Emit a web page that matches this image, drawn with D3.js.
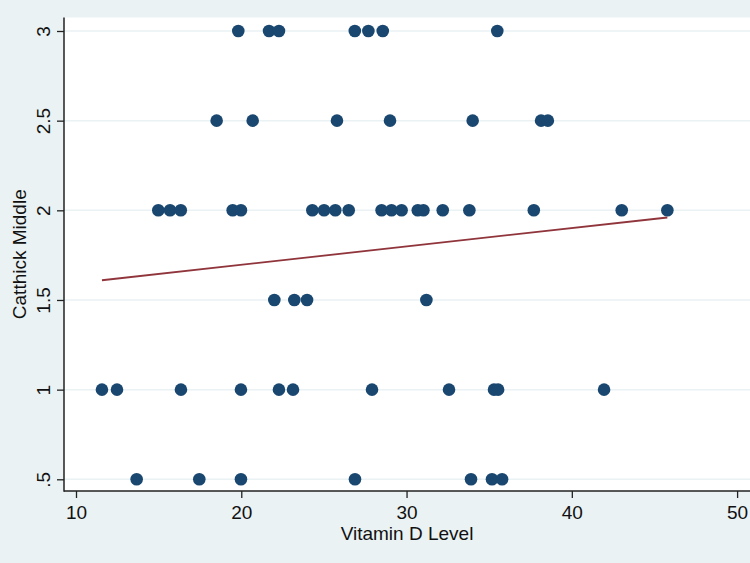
<!DOCTYPE html>
<html>
<head>
  <meta charset="utf-8">
  <title>Catthick Middle vs Vitamin D Level</title>
  <script src="https://cdn.jsdelivr.net/npm/d3@7"></script>
  <style>
    body { margin: 0; background: #eaf2f3; }
    svg { display: block; font-family: "Liberation Sans", Arial, sans-serif; }
  </style>
</head>
<body>
  <div id="chart"></div>
  <script>
    // observed points, one list per y level
    var vitD_3   = [19.82, 21.68, 22.28, 26.87, 27.69, 28.56, 35.49];
    var vitD_2_5 = [18.51, 20.69, 25.79, 29.0, 34.0, 38.14, 38.55];
    var vitD_2   = [14.98, 15.69, 16.34, 19.48, 19.98, 24.3, 25.01, 25.69, 26.5, 28.49, 29.09, 29.7,
                    30.68, 31.02, 32.19, 33.8, 37.7, 43.02, 45.78];
    var vitD_1_5 = [22.0, 23.21, 23.98, 31.2];
    var vitD_1   = [11.57, 12.48, 16.35, 19.98, 22.28, 23.13, 27.91, 32.57, 35.29, 35.54, 41.95];
    var vitD_0_5 = [13.67, 17.46, 19.98, 26.88, 33.9, 35.17, 35.78];

    var levels = [3, 2.5, 2, 1.5, 1, 0.5];
    var groups = [vitD_3, vitD_2_5, vitD_2, vitD_1_5, vitD_1, vitD_0_5];

    // fitted line (lfit) end points
    var fitX = [11.57, 45.78];
    var fitY = [1.61, 1.96];

    var xTicks = [10, 20, 30, 40, 50];
    var yTicks = [0.5, 1, 1.5, 2, 2.5, 3];
    var yTickLabels = ['.5', '1', '1.5', '2', '2.5', '3'];

    var points = [];
    groups.forEach(function (g, i) {
      g.forEach(function (v) { points.push({ x: v, y: levels[i] }); });
    });

    var width = 750, height = 563;
    var plot = { left: 64, top: 17.5, right: 750, bottom: 491 };

    var x = d3.scaleLinear().domain([10, 50]).range([76, 737.1]);
    var y = d3.scaleLinear().domain([0.5, 3]).range([479.3, 31]);

    var svg = d3.select('#chart').append('svg')
      .attr('width', width)
      .attr('height', height);

    svg.append('rect')
      .attr('width', width).attr('height', height)
      .attr('fill', '#eaf2f3');

    svg.append('rect')
      .attr('x', plot.left).attr('y', plot.top)
      .attr('width', plot.right - plot.left)
      .attr('height', plot.bottom - plot.top)
      .attr('fill', '#ffffff');

    // grid lines
    svg.append('g').selectAll('line')
      .data(yTicks)
      .enter().append('line')
        .attr('x1', plot.left).attr('x2', plot.right)
        .attr('y1', function (d) { return y(d); })
        .attr('y2', function (d) { return y(d); })
        .attr('stroke', '#eaf2f3')
        .attr('stroke-width', 1.5);

    // x axis
    var xAxis = d3.axisBottom(x)
      .tickValues(xTicks)
      .tickSize(7)
      .tickPadding(8)
      .tickFormat(d3.format('d'));

    var gx = svg.append('g')
      .attr('transform', 'translate(0,' + plot.bottom + ')')
      .call(xAxis);
    gx.select('.domain').remove();
    gx.selectAll('.tick line').attr('stroke', '#222').attr('stroke-width', 1.3);
    gx.selectAll('.tick text')
      .attr('fill', '#111')
      .style('font-size', '19px')
      .style('font-family', '"Liberation Sans", Arial, sans-serif');

    // y axis
    var yAxis = d3.axisLeft(y)
      .tickValues(yTicks)
      .tickSize(7)
      .tickFormat(function (d, i) { return yTickLabels[i]; });

    var gy = svg.append('g')
      .attr('transform', 'translate(' + plot.left + ',0)')
      .call(yAxis);
    gy.select('.domain').remove();
    gy.selectAll('.tick line').attr('stroke', '#222').attr('stroke-width', 1.3);
    gy.selectAll('.tick text')
      .attr('x', 0).attr('dy', 0)
      .attr('transform', 'translate(-14,0) rotate(-90)')
      .attr('text-anchor', 'middle')
      .attr('fill', '#111')
      .style('font-size', '19px')
      .style('font-family', '"Liberation Sans", Arial, sans-serif');

    // axis lines
    svg.append('line')
      .attr('x1', plot.left).attr('x2', plot.left)
      .attr('y1', plot.top).attr('y2', plot.bottom + 0.7)
      .attr('stroke', '#222').attr('stroke-width', 1.5);
    svg.append('line')
      .attr('x1', plot.left).attr('x2', plot.right)
      .attr('y1', plot.bottom).attr('y2', plot.bottom)
      .attr('stroke', '#222').attr('stroke-width', 1.5);

    // scatter points
    svg.append('g').selectAll('circle')
      .data(points)
      .enter().append('circle')
        .attr('cx', function (d) { return x(d.x); })
        .attr('cy', function (d) { return y(d.y); })
        .attr('r', 6.3)
        .attr('fill', '#1a476f');

    // fitted line
    var fit = fitX.map(function (v, i) { return [v, fitY[i]]; });
    svg.append('path')
      .datum(fit)
      .attr('d', d3.line()
        .x(function (d) { return x(d[0]); })
        .y(function (d) { return y(d[1]); }))
      .attr('fill', 'none')
      .attr('stroke', '#90353b')
      .attr('stroke-width', 1.8);

    // axis titles
    svg.append('text')
      .attr('x', (plot.left + plot.right) / 2 + 65 - 65)
      .attr('x', 407)
      .attr('y', 540)
      .attr('text-anchor', 'middle')
      .attr('fill', '#111')
      .style('font-size', '19px')
      .text('Vitamin D Level');

    svg.append('text')
      .attr('transform', 'translate(26,' + ((plot.top + plot.bottom) / 2) + ') rotate(-90)')
      .attr('text-anchor', 'middle')
      .attr('fill', '#111')
      .style('font-size', '19px')
      .text('Catthick Middle');
  </script>
</body>
</html>
